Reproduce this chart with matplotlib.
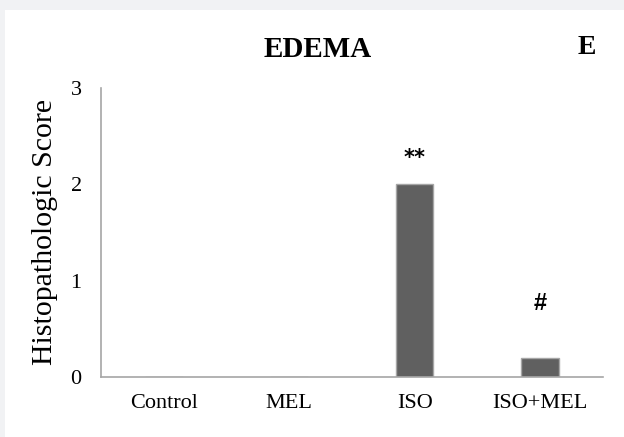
import matplotlib.pyplot as plt
from matplotlib.patches import Rectangle

plt.rcParams['font.family'] = ['Liberation Serif', 'DejaVu Serif']

groups = ["Control", "MEL", "ISO", "ISO+MEL"]
scores = [0, 0, 2.0, 0.2]
marks = ["", "", "**", "#"]
mark_y = [0, 0, 2.27, 0.76]

fig = plt.figure(figsize=(6.24, 4.37), dpi=100)
fig.patch.set_facecolor('#f1f2f4')
fig.patches.append(Rectangle((5 / 624, 0), 1, 1 - 10 / 437, transform=fig.transFigure,
                             facecolor='white', edgecolor='none', zorder=-10))

ax = fig.add_axes([0.162, 0.137, 0.804, 0.662])
ax.set_facecolor('none')
ax.bar(range(len(groups)), scores, width=0.3, color='#606060', edgecolor='#a6a6a6', linewidth=1)

for i, (m, y) in enumerate(zip(marks, mark_y)):
    if m == "**":
        ax.text(i, y, m, ha='center', va='center', fontsize=15, fontweight='bold',
                family=['DejaVu Sans'])
    elif m:
        ax.text(i, y, m, ha='center', va='center', fontsize=17, fontweight='bold',
                family=['Liberation Sans'])

ax.set_xlim(-0.5, 3.5)
ax.set_ylim(0, 3)
ax.set_yticks([0, 1, 2, 3])
ax.set_xticks(range(len(groups)))
ax.set_xticklabels(groups, fontsize=16)
ax.tick_params(axis='y', labelsize=16, length=0, pad=14)
ax.tick_params(axis='x', length=0, pad=12)
for s in ['top', 'right']:
    ax.spines[s].set_visible(False)
for s in ['left', 'bottom']:
    ax.spines[s].set_color('#a6a6a6')
    ax.spines[s].set_linewidth(1.2)

ax.set_ylabel("Histopathologic Score", fontsize=21.5)
ax.yaxis.set_label_coords(-0.085, 0.5)
fig.text(0.509, 0.887, "EDEMA", ha='center', va='center', fontsize=21, fontweight='bold')
fig.text(0.94, 0.892, "E", ha='center', va='center', fontsize=20, fontweight='bold')

fig.savefig('out.png', dpi=100, facecolor=fig.get_facecolor())
